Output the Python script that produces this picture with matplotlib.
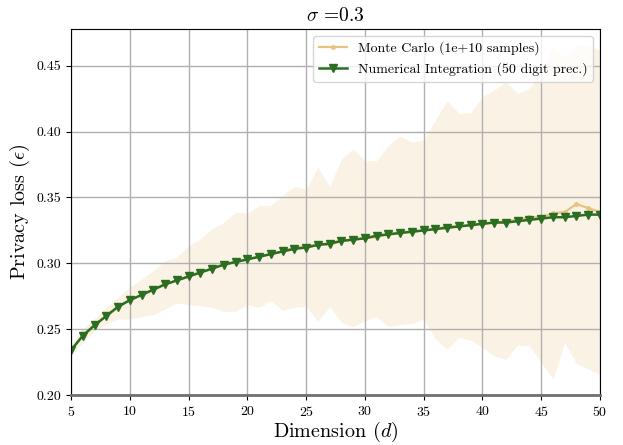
import matplotlib
matplotlib.use("Agg")
import matplotlib.pyplot as plt
import numpy as np

plt.rcParams['font.family'] = ['cmr10', 'DejaVu Serif']
plt.rcParams['mathtext.fontset'] = 'cm'
plt.rcParams['axes.formatter.use_mathtext'] = True

dims = list(range(5, 51))

numerical = [0.234, 0.245, 0.253, 0.260, 0.267, 0.272, 0.276, 0.280, 0.284, 0.287,
             0.290, 0.293, 0.296, 0.299, 0.301, 0.303, 0.305, 0.307, 0.309, 0.311,
             0.312, 0.314, 0.315, 0.317, 0.318, 0.319, 0.321, 0.322, 0.323, 0.324,
             0.325, 0.326, 0.327, 0.328, 0.329, 0.330, 0.331, 0.331, 0.332, 0.333,
             0.334, 0.335, 0.335, 0.336, 0.337, 0.337]

monte_carlo = [0.234, 0.245, 0.253, 0.260, 0.267, 0.272, 0.276, 0.280, 0.284, 0.287,
               0.290, 0.293, 0.296, 0.299, 0.301, 0.303, 0.305, 0.307, 0.309, 0.312,
               0.313, 0.314, 0.314, 0.317, 0.318, 0.319, 0.320, 0.322, 0.324, 0.324,
               0.325, 0.326, 0.328, 0.328, 0.329, 0.330, 0.331, 0.332, 0.333, 0.335,
               0.335, 0.338, 0.339, 0.345, 0.342, 0.339]

mc_upper = [0.238, 0.250, 0.258, 0.2665, 0.274, 0.282, 0.288, 0.2945, 0.302, 0.3046,
            0.3135, 0.3186, 0.3262, 0.3313, 0.3389, 0.338, 0.344, 0.344, 0.3516, 0.3585,
            0.356, 0.3732, 0.3585, 0.379, 0.3872, 0.378, 0.378, 0.3897, 0.3966, 0.3922,
            0.3936, 0.409, 0.4235, 0.414, 0.4144, 0.4266, 0.4317, 0.438, 0.429, 0.433,
            0.445, 0.4655, 0.4558, 0.466, 0.4655, 0.4617]

mc_lower = [0.230, 0.240, 0.2488, 0.2539, 0.2577, 0.2577, 0.2594, 0.261, 0.2653, 0.2699,
            0.2686, 0.2678, 0.2665, 0.2635, 0.2635, 0.2686, 0.2665, 0.2716, 0.2645, 0.2665,
            0.2673, 0.2559, 0.267, 0.2551, 0.252, 0.2564, 0.2594, 0.252, 0.2533, 0.2543,
            0.2577, 0.2424, 0.2348, 0.2437, 0.2417, 0.236, 0.2297, 0.2272, 0.238, 0.2373,
            0.2246, 0.212, 0.2399, 0.2239, 0.2196, 0.2158]

x_ticks = [5, 10, 15, 20, 25, 30, 35, 40, 45, 50]
y_ticks = [0.20, 0.25, 0.30, 0.35, 0.40, 0.45]

mc_color = '#e9c27f'
ni_color = '#2b6e22'

fig = plt.figure(figsize=(6.23, 4.45), dpi=100)
ax = fig.add_axes([0.114, 0.1124, 0.849, 0.8225])

ax.fill_between(dims, mc_lower, mc_upper, color=mc_color, alpha=0.2, linewidth=0)
ax.plot(dims, monte_carlo, color=mc_color, marker='.', markersize=5, linewidth=1.6,
        label='Monte Carlo (1e+10 samples)')
ax.plot(dims, numerical, color=ni_color, marker='v', markersize=6, linewidth=1.8,
        label='Numerical Integration (50 digit prec.)')

ax.set_xlim(5, 50)
ax.set_ylim(0.2, 0.478)
ax.set_xticks(x_ticks)
ax.set_yticks(y_ticks)
ax.set_yticklabels([f'{v:.2f}' for v in y_ticks])
ax.grid(True, color='#b0b0b0', linewidth=1.0)
ax.tick_params(labelsize=10)

ax.spines['bottom'].set_color('#707070')
ax.spines['bottom'].set_linewidth(2.0)

ax.set_xlabel('Dimension ($d$)', fontsize=14.5, labelpad=1)
ax.set_ylabel('Privacy loss ($\\epsilon$)', fontsize=14.5, labelpad=3)
ax.set_title('$\\sigma$ =0.3', fontsize=14)

ax.legend(loc='upper right', fontsize=10, framealpha=0.8, borderaxespad=0.5)

fig.savefig('out.png', dpi=100)
